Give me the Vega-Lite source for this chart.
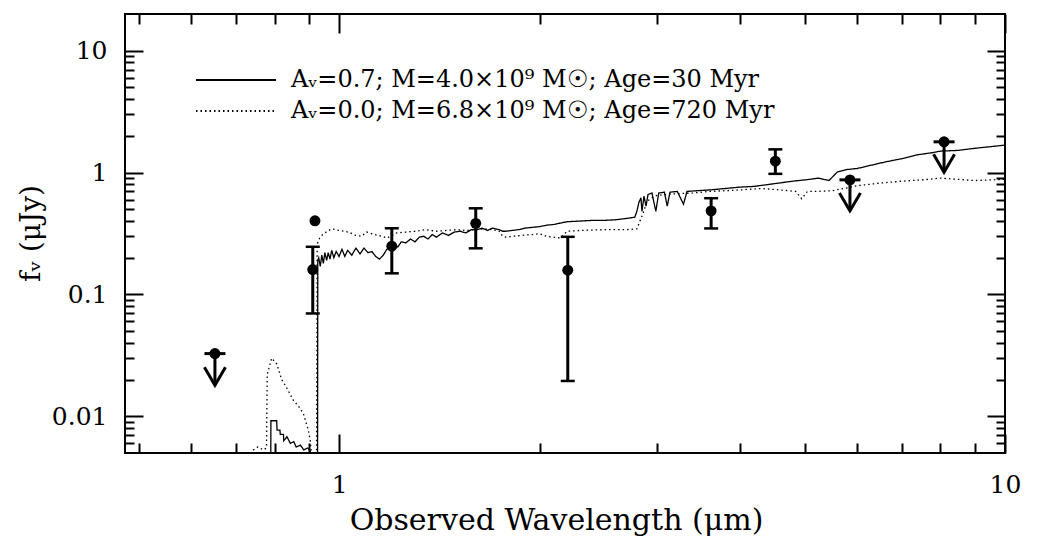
{
  "$schema": "https://vega.github.io/schema/vega-lite/v6.json",
  "width": 880,
  "height": 439,
  "autosize": {"type": "none"},
  "padding": {"left": 125, "top": 14, "right": 33, "bottom": 85},
  "background": "white",
  "config": {
    "view": {"stroke": "black", "strokeWidth": 2},
    "font": "DejaVu Serif",
    "axis": {"domain": false, "grid": false, "tickColor": "black", "tickWidth": 2, "labelFont": "DejaVu Serif", "labelFontSize": 25, "labelColor": "black", "titleFont": "DejaVu Serif", "titleFontSize": 30, "titleFontWeight": "normal", "titleColor": "black", "labelOverlap": false, "labelFlush": false}
  },
  "datasets": {
    "spec": [
      {"model": "Aᵥ=0.7; M=4.0×10⁹ M☉; Age=30 Myr", "wl": 0.60, "flux": 0.001},
      {"model": "Aᵥ=0.7; M=4.0×10⁹ M☉; Age=30 Myr", "wl": 0.789, "flux": 0.001},
      {"model": "Aᵥ=0.7; M=4.0×10⁹ M☉; Age=30 Myr", "wl": 0.790, "flux": 0.0092},
      {"model": "Aᵥ=0.7; M=4.0×10⁹ M☉; Age=30 Myr", "wl": 0.806, "flux": 0.0092},
      {"model": "Aᵥ=0.7; M=4.0×10⁹ M☉; Age=30 Myr", "wl": 0.807, "flux": 0.0077},
      {"model": "Aᵥ=0.7; M=4.0×10⁹ M☉; Age=30 Myr", "wl": 0.815, "flux": 0.0077},
      {"model": "Aᵥ=0.7; M=4.0×10⁹ M☉; Age=30 Myr", "wl": 0.816, "flux": 0.0071},
      {"model": "Aᵥ=0.7; M=4.0×10⁹ M☉; Age=30 Myr", "wl": 0.825, "flux": 0.0071},
      {"model": "Aᵥ=0.7; M=4.0×10⁹ M☉; Age=30 Myr", "wl": 0.826, "flux": 0.0063},
      {"model": "Aᵥ=0.7; M=4.0×10⁹ M☉; Age=30 Myr", "wl": 0.835, "flux": 0.0068},
      {"model": "Aᵥ=0.7; M=4.0×10⁹ M☉; Age=30 Myr", "wl": 0.845, "flux": 0.0060},
      {"model": "Aᵥ=0.7; M=4.0×10⁹ M☉; Age=30 Myr", "wl": 0.855, "flux": 0.0062},
      {"model": "Aᵥ=0.7; M=4.0×10⁹ M☉; Age=30 Myr", "wl": 0.862, "flux": 0.0056},
      {"model": "Aᵥ=0.7; M=4.0×10⁹ M☉; Age=30 Myr", "wl": 0.875, "flux": 0.0058},
      {"model": "Aᵥ=0.7; M=4.0×10⁹ M☉; Age=30 Myr", "wl": 0.885, "flux": 0.0053},
      {"model": "Aᵥ=0.7; M=4.0×10⁹ M☉; Age=30 Myr", "wl": 0.897, "flux": 0.0055},
      {"model": "Aᵥ=0.7; M=4.0×10⁹ M☉; Age=30 Myr", "wl": 0.905, "flux": 0.0052},
      {"model": "Aᵥ=0.7; M=4.0×10⁹ M☉; Age=30 Myr", "wl": 0.906, "flux": 0.001},
      {"model": "Aᵥ=0.7; M=4.0×10⁹ M☉; Age=30 Myr", "wl": 0.928, "flux": 0.001},
      {"model": "Aᵥ=0.7; M=4.0×10⁹ M☉; Age=30 Myr", "wl": 0.929, "flux": 0.19},
      {"model": "Aᵥ=0.7; M=4.0×10⁹ M☉; Age=30 Myr", "wl": 0.932, "flux": 0.20},
      {"model": "Aᵥ=0.7; M=4.0×10⁹ M☉; Age=30 Myr", "wl": 0.937, "flux": 0.17},
      {"model": "Aᵥ=0.7; M=4.0×10⁹ M☉; Age=30 Myr", "wl": 0.942, "flux": 0.21},
      {"model": "Aᵥ=0.7; M=4.0×10⁹ M☉; Age=30 Myr", "wl": 0.947, "flux": 0.18},
      {"model": "Aᵥ=0.7; M=4.0×10⁹ M☉; Age=30 Myr", "wl": 0.952, "flux": 0.22},
      {"model": "Aᵥ=0.7; M=4.0×10⁹ M☉; Age=30 Myr", "wl": 0.958, "flux": 0.19},
      {"model": "Aᵥ=0.7; M=4.0×10⁹ M☉; Age=30 Myr", "wl": 0.963, "flux": 0.22},
      {"model": "Aᵥ=0.7; M=4.0×10⁹ M☉; Age=30 Myr", "wl": 0.969, "flux": 0.195},
      {"model": "Aᵥ=0.7; M=4.0×10⁹ M☉; Age=30 Myr", "wl": 0.975, "flux": 0.23},
      {"model": "Aᵥ=0.7; M=4.0×10⁹ M☉; Age=30 Myr", "wl": 0.982, "flux": 0.20},
      {"model": "Aᵥ=0.7; M=4.0×10⁹ M☉; Age=30 Myr", "wl": 0.99, "flux": 0.225},
      {"model": "Aᵥ=0.7; M=4.0×10⁹ M☉; Age=30 Myr", "wl": 1.0, "flux": 0.205},
      {"model": "Aᵥ=0.7; M=4.0×10⁹ M☉; Age=30 Myr", "wl": 1.01, "flux": 0.235},
      {"model": "Aᵥ=0.7; M=4.0×10⁹ M☉; Age=30 Myr", "wl": 1.02, "flux": 0.205},
      {"model": "Aᵥ=0.7; M=4.0×10⁹ M☉; Age=30 Myr", "wl": 1.03, "flux": 0.23},
      {"model": "Aᵥ=0.7; M=4.0×10⁹ M☉; Age=30 Myr", "wl": 1.045, "flux": 0.21},
      {"model": "Aᵥ=0.7; M=4.0×10⁹ M☉; Age=30 Myr", "wl": 1.06, "flux": 0.24},
      {"model": "Aᵥ=0.7; M=4.0×10⁹ M☉; Age=30 Myr", "wl": 1.075, "flux": 0.215},
      {"model": "Aᵥ=0.7; M=4.0×10⁹ M☉; Age=30 Myr", "wl": 1.09, "flux": 0.24},
      {"model": "Aᵥ=0.7; M=4.0×10⁹ M☉; Age=30 Myr", "wl": 1.105, "flux": 0.22},
      {"model": "Aᵥ=0.7; M=4.0×10⁹ M☉; Age=30 Myr", "wl": 1.12, "flux": 0.225},
      {"model": "Aᵥ=0.7; M=4.0×10⁹ M☉; Age=30 Myr", "wl": 1.135, "flux": 0.205},
      {"model": "Aᵥ=0.7; M=4.0×10⁹ M☉; Age=30 Myr", "wl": 1.15, "flux": 0.195},
      {"model": "Aᵥ=0.7; M=4.0×10⁹ M☉; Age=30 Myr", "wl": 1.165, "flux": 0.21},
      {"model": "Aᵥ=0.7; M=4.0×10⁹ M☉; Age=30 Myr", "wl": 1.18, "flux": 0.235},
      {"model": "Aᵥ=0.7; M=4.0×10⁹ M☉; Age=30 Myr", "wl": 1.195, "flux": 0.245},
      {"model": "Aᵥ=0.7; M=4.0×10⁹ M☉; Age=30 Myr", "wl": 1.21, "flux": 0.26},
      {"model": "Aᵥ=0.7; M=4.0×10⁹ M☉; Age=30 Myr", "wl": 1.225, "flux": 0.245},
      {"model": "Aᵥ=0.7; M=4.0×10⁹ M☉; Age=30 Myr", "wl": 1.24, "flux": 0.27},
      {"model": "Aᵥ=0.7; M=4.0×10⁹ M☉; Age=30 Myr", "wl": 1.26, "flux": 0.265},
      {"model": "Aᵥ=0.7; M=4.0×10⁹ M☉; Age=30 Myr", "wl": 1.28, "flux": 0.285},
      {"model": "Aᵥ=0.7; M=4.0×10⁹ M☉; Age=30 Myr", "wl": 1.30, "flux": 0.27},
      {"model": "Aᵥ=0.7; M=4.0×10⁹ M☉; Age=30 Myr", "wl": 1.32, "flux": 0.295},
      {"model": "Aᵥ=0.7; M=4.0×10⁹ M☉; Age=30 Myr", "wl": 1.34, "flux": 0.30},
      {"model": "Aᵥ=0.7; M=4.0×10⁹ M☉; Age=30 Myr", "wl": 1.36, "flux": 0.285},
      {"model": "Aᵥ=0.7; M=4.0×10⁹ M☉; Age=30 Myr", "wl": 1.38, "flux": 0.31},
      {"model": "Aᵥ=0.7; M=4.0×10⁹ M☉; Age=30 Myr", "wl": 1.40, "flux": 0.295},
      {"model": "Aᵥ=0.7; M=4.0×10⁹ M☉; Age=30 Myr", "wl": 1.43, "flux": 0.32},
      {"model": "Aᵥ=0.7; M=4.0×10⁹ M☉; Age=30 Myr", "wl": 1.46, "flux": 0.305},
      {"model": "Aᵥ=0.7; M=4.0×10⁹ M☉; Age=30 Myr", "wl": 1.49, "flux": 0.325},
      {"model": "Aᵥ=0.7; M=4.0×10⁹ M☉; Age=30 Myr", "wl": 1.52, "flux": 0.33},
      {"model": "Aᵥ=0.7; M=4.0×10⁹ M☉; Age=30 Myr", "wl": 1.55, "flux": 0.32},
      {"model": "Aᵥ=0.7; M=4.0×10⁹ M☉; Age=30 Myr", "wl": 1.58, "flux": 0.34},
      {"model": "Aᵥ=0.7; M=4.0×10⁹ M☉; Age=30 Myr", "wl": 1.61, "flux": 0.34},
      {"model": "Aᵥ=0.7; M=4.0×10⁹ M☉; Age=30 Myr", "wl": 1.64, "flux": 0.35},
      {"model": "Aᵥ=0.7; M=4.0×10⁹ M☉; Age=30 Myr", "wl": 1.67, "flux": 0.335},
      {"model": "Aᵥ=0.7; M=4.0×10⁹ M☉; Age=30 Myr", "wl": 1.70, "flux": 0.35},
      {"model": "Aᵥ=0.7; M=4.0×10⁹ M☉; Age=30 Myr", "wl": 1.74, "flux": 0.34},
      {"model": "Aᵥ=0.7; M=4.0×10⁹ M☉; Age=30 Myr", "wl": 1.76, "flux": 0.33},
      {"model": "Aᵥ=0.7; M=4.0×10⁹ M☉; Age=30 Myr", "wl": 1.78, "flux": 0.33},
      {"model": "Aᵥ=0.7; M=4.0×10⁹ M☉; Age=30 Myr", "wl": 1.82, "flux": 0.335},
      {"model": "Aᵥ=0.7; M=4.0×10⁹ M☉; Age=30 Myr", "wl": 1.86, "flux": 0.34},
      {"model": "Aᵥ=0.7; M=4.0×10⁹ M☉; Age=30 Myr", "wl": 1.90, "flux": 0.35},
      {"model": "Aᵥ=0.7; M=4.0×10⁹ M☉; Age=30 Myr", "wl": 1.95, "flux": 0.355},
      {"model": "Aᵥ=0.7; M=4.0×10⁹ M☉; Age=30 Myr", "wl": 2.0, "flux": 0.36},
      {"model": "Aᵥ=0.7; M=4.0×10⁹ M☉; Age=30 Myr", "wl": 2.05, "flux": 0.37},
      {"model": "Aᵥ=0.7; M=4.0×10⁹ M☉; Age=30 Myr", "wl": 2.1, "flux": 0.375},
      {"model": "Aᵥ=0.7; M=4.0×10⁹ M☉; Age=30 Myr", "wl": 2.15, "flux": 0.385},
      {"model": "Aᵥ=0.7; M=4.0×10⁹ M☉; Age=30 Myr", "wl": 2.2, "flux": 0.395},
      {"model": "Aᵥ=0.7; M=4.0×10⁹ M☉; Age=30 Myr", "wl": 2.3, "flux": 0.40},
      {"model": "Aᵥ=0.7; M=4.0×10⁹ M☉; Age=30 Myr", "wl": 2.4, "flux": 0.405},
      {"model": "Aᵥ=0.7; M=4.0×10⁹ M☉; Age=30 Myr", "wl": 2.5, "flux": 0.405},
      {"model": "Aᵥ=0.7; M=4.0×10⁹ M☉; Age=30 Myr", "wl": 2.6, "flux": 0.41},
      {"model": "Aᵥ=0.7; M=4.0×10⁹ M☉; Age=30 Myr", "wl": 2.7, "flux": 0.42},
      {"model": "Aᵥ=0.7; M=4.0×10⁹ M☉; Age=30 Myr", "wl": 2.78, "flux": 0.43},
      {"model": "Aᵥ=0.7; M=4.0×10⁹ M☉; Age=30 Myr", "wl": 2.80, "flux": 0.48},
      {"model": "Aᵥ=0.7; M=4.0×10⁹ M☉; Age=30 Myr", "wl": 2.82, "flux": 0.57},
      {"model": "Aᵥ=0.7; M=4.0×10⁹ M☉; Age=30 Myr", "wl": 2.84, "flux": 0.62},
      {"model": "Aᵥ=0.7; M=4.0×10⁹ M☉; Age=30 Myr", "wl": 2.85, "flux": 0.48},
      {"model": "Aᵥ=0.7; M=4.0×10⁹ M☉; Age=30 Myr", "wl": 2.87, "flux": 0.64},
      {"model": "Aᵥ=0.7; M=4.0×10⁹ M☉; Age=30 Myr", "wl": 2.89, "flux": 0.53},
      {"model": "Aᵥ=0.7; M=4.0×10⁹ M☉; Age=30 Myr", "wl": 2.91, "flux": 0.66},
      {"model": "Aᵥ=0.7; M=4.0×10⁹ M☉; Age=30 Myr", "wl": 2.95, "flux": 0.68},
      {"model": "Aᵥ=0.7; M=4.0×10⁹ M☉; Age=30 Myr", "wl": 2.99, "flux": 0.48},
      {"model": "Aᵥ=0.7; M=4.0×10⁹ M☉; Age=30 Myr", "wl": 3.02, "flux": 0.68},
      {"model": "Aᵥ=0.7; M=4.0×10⁹ M☉; Age=30 Myr", "wl": 3.08, "flux": 0.69},
      {"model": "Aᵥ=0.7; M=4.0×10⁹ M☉; Age=30 Myr", "wl": 3.11, "flux": 0.53},
      {"model": "Aᵥ=0.7; M=4.0×10⁹ M☉; Age=30 Myr", "wl": 3.14, "flux": 0.69},
      {"model": "Aᵥ=0.7; M=4.0×10⁹ M☉; Age=30 Myr", "wl": 3.22, "flux": 0.70},
      {"model": "Aᵥ=0.7; M=4.0×10⁹ M☉; Age=30 Myr", "wl": 3.29, "flux": 0.55},
      {"model": "Aᵥ=0.7; M=4.0×10⁹ M☉; Age=30 Myr", "wl": 3.33, "flux": 0.70},
      {"model": "Aᵥ=0.7; M=4.0×10⁹ M☉; Age=30 Myr", "wl": 3.45, "flux": 0.71},
      {"model": "Aᵥ=0.7; M=4.0×10⁹ M☉; Age=30 Myr", "wl": 3.6, "flux": 0.72},
      {"model": "Aᵥ=0.7; M=4.0×10⁹ M☉; Age=30 Myr", "wl": 3.8, "flux": 0.74},
      {"model": "Aᵥ=0.7; M=4.0×10⁹ M☉; Age=30 Myr", "wl": 4.0, "flux": 0.76},
      {"model": "Aᵥ=0.7; M=4.0×10⁹ M☉; Age=30 Myr", "wl": 4.2, "flux": 0.77},
      {"model": "Aᵥ=0.7; M=4.0×10⁹ M☉; Age=30 Myr", "wl": 4.5, "flux": 0.81},
      {"model": "Aᵥ=0.7; M=4.0×10⁹ M☉; Age=30 Myr", "wl": 4.8, "flux": 0.85},
      {"model": "Aᵥ=0.7; M=4.0×10⁹ M☉; Age=30 Myr", "wl": 5.0, "flux": 0.87},
      {"model": "Aᵥ=0.7; M=4.0×10⁹ M☉; Age=30 Myr", "wl": 5.25, "flux": 0.90},
      {"model": "Aᵥ=0.7; M=4.0×10⁹ M☉; Age=30 Myr", "wl": 5.44, "flux": 0.86},
      {"model": "Aᵥ=0.7; M=4.0×10⁹ M☉; Age=30 Myr", "wl": 5.6, "flux": 1.01},
      {"model": "Aᵥ=0.7; M=4.0×10⁹ M☉; Age=30 Myr", "wl": 5.8, "flux": 1.06},
      {"model": "Aᵥ=0.7; M=4.0×10⁹ M☉; Age=30 Myr", "wl": 6.0, "flux": 1.08},
      {"model": "Aᵥ=0.7; M=4.0×10⁹ M☉; Age=30 Myr", "wl": 6.3, "flux": 1.15},
      {"model": "Aᵥ=0.7; M=4.0×10⁹ M☉; Age=30 Myr", "wl": 6.6, "flux": 1.22},
      {"model": "Aᵥ=0.7; M=4.0×10⁹ M☉; Age=30 Myr", "wl": 7.0, "flux": 1.30},
      {"model": "Aᵥ=0.7; M=4.0×10⁹ M☉; Age=30 Myr", "wl": 7.4, "flux": 1.40},
      {"model": "Aᵥ=0.7; M=4.0×10⁹ M☉; Age=30 Myr", "wl": 7.8, "flux": 1.46},
      {"model": "Aᵥ=0.7; M=4.0×10⁹ M☉; Age=30 Myr", "wl": 8.0, "flux": 1.50},
      {"model": "Aᵥ=0.7; M=4.0×10⁹ M☉; Age=30 Myr", "wl": 8.5, "flux": 1.52},
      {"model": "Aᵥ=0.7; M=4.0×10⁹ M☉; Age=30 Myr", "wl": 9.0, "flux": 1.58},
      {"model": "Aᵥ=0.7; M=4.0×10⁹ M☉; Age=30 Myr", "wl": 9.5, "flux": 1.63},
      {"model": "Aᵥ=0.7; M=4.0×10⁹ M☉; Age=30 Myr", "wl": 10.0, "flux": 1.68},

      {"model": "Aᵥ=0.0; M=6.8×10⁹ M☉; Age=720 Myr", "wl": 0.60, "flux": 0.001},
      {"model": "Aᵥ=0.0; M=6.8×10⁹ M☉; Age=720 Myr", "wl": 0.738, "flux": 0.001},
      {"model": "Aᵥ=0.0; M=6.8×10⁹ M☉; Age=720 Myr", "wl": 0.740, "flux": 0.0052},
      {"model": "Aᵥ=0.0; M=6.8×10⁹ M☉; Age=720 Myr", "wl": 0.755, "flux": 0.0056},
      {"model": "Aᵥ=0.0; M=6.8×10⁹ M☉; Age=720 Myr", "wl": 0.770, "flux": 0.0053},
      {"model": "Aᵥ=0.0; M=6.8×10⁹ M☉; Age=720 Myr", "wl": 0.778, "flux": 0.0055},
      {"model": "Aᵥ=0.0; M=6.8×10⁹ M☉; Age=720 Myr", "wl": 0.780, "flux": 0.022},
      {"model": "Aᵥ=0.0; M=6.8×10⁹ M☉; Age=720 Myr", "wl": 0.792, "flux": 0.030},
      {"model": "Aᵥ=0.0; M=6.8×10⁹ M☉; Age=720 Myr", "wl": 0.806, "flux": 0.027},
      {"model": "Aᵥ=0.0; M=6.8×10⁹ M☉; Age=720 Myr", "wl": 0.820, "flux": 0.020},
      {"model": "Aᵥ=0.0; M=6.8×10⁹ M☉; Age=720 Myr", "wl": 0.835, "flux": 0.017},
      {"model": "Aᵥ=0.0; M=6.8×10⁹ M☉; Age=720 Myr", "wl": 0.854, "flux": 0.0135},
      {"model": "Aᵥ=0.0; M=6.8×10⁹ M☉; Age=720 Myr", "wl": 0.870, "flux": 0.012},
      {"model": "Aᵥ=0.0; M=6.8×10⁹ M☉; Age=720 Myr", "wl": 0.884, "flux": 0.0105},
      {"model": "Aᵥ=0.0; M=6.8×10⁹ M☉; Age=720 Myr", "wl": 0.899, "flux": 0.0077},
      {"model": "Aᵥ=0.0; M=6.8×10⁹ M☉; Age=720 Myr", "wl": 0.905, "flux": 0.0064},
      {"model": "Aᵥ=0.0; M=6.8×10⁹ M☉; Age=720 Myr", "wl": 0.910, "flux": 0.0045},
      {"model": "Aᵥ=0.0; M=6.8×10⁹ M☉; Age=720 Myr", "wl": 0.925, "flux": 0.0045},
      {"model": "Aᵥ=0.0; M=6.8×10⁹ M☉; Age=720 Myr", "wl": 0.927, "flux": 0.26},
      {"model": "Aᵥ=0.0; M=6.8×10⁹ M☉; Age=720 Myr", "wl": 0.935, "flux": 0.29},
      {"model": "Aᵥ=0.0; M=6.8×10⁹ M☉; Age=720 Myr", "wl": 0.945, "flux": 0.31},
      {"model": "Aᵥ=0.0; M=6.8×10⁹ M☉; Age=720 Myr", "wl": 0.96, "flux": 0.33},
      {"model": "Aᵥ=0.0; M=6.8×10⁹ M☉; Age=720 Myr", "wl": 0.975, "flux": 0.345},
      {"model": "Aᵥ=0.0; M=6.8×10⁹ M☉; Age=720 Myr", "wl": 0.99, "flux": 0.34},
      {"model": "Aᵥ=0.0; M=6.8×10⁹ M☉; Age=720 Myr", "wl": 1.0, "flux": 0.335},
      {"model": "Aᵥ=0.0; M=6.8×10⁹ M☉; Age=720 Myr", "wl": 1.02, "flux": 0.33},
      {"model": "Aᵥ=0.0; M=6.8×10⁹ M☉; Age=720 Myr", "wl": 1.04, "flux": 0.32},
      {"model": "Aᵥ=0.0; M=6.8×10⁹ M☉; Age=720 Myr", "wl": 1.06, "flux": 0.305},
      {"model": "Aᵥ=0.0; M=6.8×10⁹ M☉; Age=720 Myr", "wl": 1.08, "flux": 0.30},
      {"model": "Aᵥ=0.0; M=6.8×10⁹ M☉; Age=720 Myr", "wl": 1.10, "flux": 0.325},
      {"model": "Aᵥ=0.0; M=6.8×10⁹ M☉; Age=720 Myr", "wl": 1.13, "flux": 0.31},
      {"model": "Aᵥ=0.0; M=6.8×10⁹ M☉; Age=720 Myr", "wl": 1.16, "flux": 0.30},
      {"model": "Aᵥ=0.0; M=6.8×10⁹ M☉; Age=720 Myr", "wl": 1.18, "flux": 0.29},
      {"model": "Aᵥ=0.0; M=6.8×10⁹ M☉; Age=720 Myr", "wl": 1.22, "flux": 0.32},
      {"model": "Aᵥ=0.0; M=6.8×10⁹ M☉; Age=720 Myr", "wl": 1.26, "flux": 0.325},
      {"model": "Aᵥ=0.0; M=6.8×10⁹ M☉; Age=720 Myr", "wl": 1.30, "flux": 0.33},
      {"model": "Aᵥ=0.0; M=6.8×10⁹ M☉; Age=720 Myr", "wl": 1.35, "flux": 0.34},
      {"model": "Aᵥ=0.0; M=6.8×10⁹ M☉; Age=720 Myr", "wl": 1.40, "flux": 0.33},
      {"model": "Aᵥ=0.0; M=6.8×10⁹ M☉; Age=720 Myr", "wl": 1.45, "flux": 0.335},
      {"model": "Aᵥ=0.0; M=6.8×10⁹ M☉; Age=720 Myr", "wl": 1.50, "flux": 0.34},
      {"model": "Aᵥ=0.0; M=6.8×10⁹ M☉; Age=720 Myr", "wl": 1.55, "flux": 0.335},
      {"model": "Aᵥ=0.0; M=6.8×10⁹ M☉; Age=720 Myr", "wl": 1.60, "flux": 0.34},
      {"model": "Aᵥ=0.0; M=6.8×10⁹ M☉; Age=720 Myr", "wl": 1.65, "flux": 0.345},
      {"model": "Aᵥ=0.0; M=6.8×10⁹ M☉; Age=720 Myr", "wl": 1.70, "flux": 0.34},
      {"model": "Aᵥ=0.0; M=6.8×10⁹ M☉; Age=720 Myr", "wl": 1.74, "flux": 0.33},
      {"model": "Aᵥ=0.0; M=6.8×10⁹ M☉; Age=720 Myr", "wl": 1.76, "flux": 0.30},
      {"model": "Aᵥ=0.0; M=6.8×10⁹ M☉; Age=720 Myr", "wl": 1.78, "flux": 0.295},
      {"model": "Aᵥ=0.0; M=6.8×10⁹ M☉; Age=720 Myr", "wl": 1.82, "flux": 0.30},
      {"model": "Aᵥ=0.0; M=6.8×10⁹ M☉; Age=720 Myr", "wl": 1.88, "flux": 0.305},
      {"model": "Aᵥ=0.0; M=6.8×10⁹ M☉; Age=720 Myr", "wl": 1.95, "flux": 0.31},
      {"model": "Aᵥ=0.0; M=6.8×10⁹ M☉; Age=720 Myr", "wl": 2.0, "flux": 0.315},
      {"model": "Aᵥ=0.0; M=6.8×10⁹ M☉; Age=720 Myr", "wl": 2.05, "flux": 0.30},
      {"model": "Aᵥ=0.0; M=6.8×10⁹ M☉; Age=720 Myr", "wl": 2.1, "flux": 0.295},
      {"model": "Aᵥ=0.0; M=6.8×10⁹ M☉; Age=720 Myr", "wl": 2.15, "flux": 0.29},
      {"model": "Aᵥ=0.0; M=6.8×10⁹ M☉; Age=720 Myr", "wl": 2.2, "flux": 0.33},
      {"model": "Aᵥ=0.0; M=6.8×10⁹ M☉; Age=720 Myr", "wl": 2.3, "flux": 0.335},
      {"model": "Aᵥ=0.0; M=6.8×10⁹ M☉; Age=720 Myr", "wl": 2.5, "flux": 0.34},
      {"model": "Aᵥ=0.0; M=6.8×10⁹ M☉; Age=720 Myr", "wl": 2.7, "flux": 0.34},
      {"model": "Aᵥ=0.0; M=6.8×10⁹ M☉; Age=720 Myr", "wl": 2.80, "flux": 0.345},
      {"model": "Aᵥ=0.0; M=6.8×10⁹ M☉; Age=720 Myr", "wl": 2.83, "flux": 0.40},
      {"model": "Aᵥ=0.0; M=6.8×10⁹ M☉; Age=720 Myr", "wl": 2.86, "flux": 0.46},
      {"model": "Aᵥ=0.0; M=6.8×10⁹ M☉; Age=720 Myr", "wl": 2.9, "flux": 0.58},
      {"model": "Aᵥ=0.0; M=6.8×10⁹ M☉; Age=720 Myr", "wl": 2.95, "flux": 0.62},
      {"model": "Aᵥ=0.0; M=6.8×10⁹ M☉; Age=720 Myr", "wl": 3.0, "flux": 0.65},
      {"model": "Aᵥ=0.0; M=6.8×10⁹ M☉; Age=720 Myr", "wl": 3.1, "flux": 0.66},
      {"model": "Aᵥ=0.0; M=6.8×10⁹ M☉; Age=720 Myr", "wl": 3.2, "flux": 0.67},
      {"model": "Aᵥ=0.0; M=6.8×10⁹ M☉; Age=720 Myr", "wl": 3.4, "flux": 0.68},
      {"model": "Aᵥ=0.0; M=6.8×10⁹ M☉; Age=720 Myr", "wl": 3.6, "flux": 0.70},
      {"model": "Aᵥ=0.0; M=6.8×10⁹ M☉; Age=720 Myr", "wl": 3.8, "flux": 0.71},
      {"model": "Aᵥ=0.0; M=6.8×10⁹ M☉; Age=720 Myr", "wl": 4.0, "flux": 0.72},
      {"model": "Aᵥ=0.0; M=6.8×10⁹ M☉; Age=720 Myr", "wl": 4.3, "flux": 0.74},
      {"model": "Aᵥ=0.0; M=6.8×10⁹ M☉; Age=720 Myr", "wl": 4.6, "flux": 0.72},
      {"model": "Aᵥ=0.0; M=6.8×10⁹ M☉; Age=720 Myr", "wl": 4.85, "flux": 0.70},
      {"model": "Aᵥ=0.0; M=6.8×10⁹ M☉; Age=720 Myr", "wl": 4.95, "flux": 0.61},
      {"model": "Aᵥ=0.0; M=6.8×10⁹ M☉; Age=720 Myr", "wl": 5.05, "flux": 0.70},
      {"model": "Aᵥ=0.0; M=6.8×10⁹ M☉; Age=720 Myr", "wl": 5.2, "flux": 0.70},
      {"model": "Aᵥ=0.0; M=6.8×10⁹ M☉; Age=720 Myr", "wl": 5.5, "flux": 0.71},
      {"model": "Aᵥ=0.0; M=6.8×10⁹ M☉; Age=720 Myr", "wl": 5.8, "flux": 0.75},
      {"model": "Aᵥ=0.0; M=6.8×10⁹ M☉; Age=720 Myr", "wl": 6.0, "flux": 0.78},
      {"model": "Aᵥ=0.0; M=6.8×10⁹ M☉; Age=720 Myr", "wl": 6.5, "flux": 0.82},
      {"model": "Aᵥ=0.0; M=6.8×10⁹ M☉; Age=720 Myr", "wl": 7.0, "flux": 0.85},
      {"model": "Aᵥ=0.0; M=6.8×10⁹ M☉; Age=720 Myr", "wl": 7.5, "flux": 0.87},
      {"model": "Aᵥ=0.0; M=6.8×10⁹ M☉; Age=720 Myr", "wl": 8.0, "flux": 0.90},
      {"model": "Aᵥ=0.0; M=6.8×10⁹ M☉; Age=720 Myr", "wl": 8.5, "flux": 0.88},
      {"model": "Aᵥ=0.0; M=6.8×10⁹ M☉; Age=720 Myr", "wl": 9.0, "flux": 0.86},
      {"model": "Aᵥ=0.0; M=6.8×10⁹ M☉; Age=720 Myr", "wl": 9.5, "flux": 0.87},
      {"model": "Aᵥ=0.0; M=6.8×10⁹ M☉; Age=720 Myr", "wl": 10.0, "flux": 0.88}
    ],
    "pts": [
      {"wl": 0.651, "flux": 0.0327, "lo": 0.0180, "kind": "limit"},
      {"wl": 0.920, "flux": 0.402, "kind": "single"},
      {"wl": 0.913, "flux": 0.160, "lo": 0.0698, "hi": 0.246, "kind": "detection"},
      {"wl": 1.20, "flux": 0.249, "lo": 0.149, "hi": 0.349, "kind": "detection"},
      {"wl": 1.604, "flux": 0.383, "lo": 0.239, "hi": 0.509, "kind": "detection"},
      {"wl": 2.205, "flux": 0.158, "lo": 0.0195, "hi": 0.297, "kind": "detection"},
      {"wl": 3.62, "flux": 0.485, "lo": 0.348, "hi": 0.616, "kind": "detection"},
      {"wl": 4.52, "flux": 1.24, "lo": 0.976, "hi": 1.55, "kind": "detection"},
      {"wl": 5.85, "flux": 0.871, "lo": 0.485, "kind": "limit"},
      {"wl": 8.10, "flux": 1.787, "lo": 1.007, "kind": "limit"}
    ]
  },
  "layer": [
    {
      "data": {"name": "spec"},
      "mark": {"type": "line", "color": "black", "strokeWidth": 1.3, "clip": true},
      "encoding": {
        "x": {"field": "wl", "type": "quantitative", "scale": {"type": "log", "domain": [0.477, 10], "nice": false},
          "axis": {"orient": "bottom", "values": [0.5, 0.6, 0.7, 0.8, 0.9, 1, 2, 3, 4, 5, 6, 7, 8, 9, 10],
            "tickSize": {"condition": {"test": "datum.value == 1 || datum.value == 10", "value": -19}, "value": -10},
            "labelExpr": "datum.value == 1 || datum.value == 10 ? datum.label : ''", "format": "~g", "labelPadding": 38,
            "title": "Observed Wavelength (μm)", "titleX": 431, "titleY": 67, "titleBaseline": "middle", "titleAlign": "center"}},
        "y": {"field": "flux", "type": "quantitative", "scale": {"type": "log", "domain": [0.005, 20], "nice": false},
          "axis": {"orient": "left", "values": [0.006, 0.007, 0.008, 0.009, 0.01, 0.02, 0.03, 0.04, 0.05, 0.06, 0.07, 0.08, 0.09, 0.1, 0.2, 0.3, 0.4, 0.5, 0.6, 0.7, 0.8, 0.9, 1, 2, 3, 4, 5, 6, 7, 8, 9, 10],
            "tickSize": {"condition": {"test": "datum.value == 0.01 || datum.value == 0.1 || datum.value == 1 || datum.value == 10", "value": -18}, "value": -9},
            "labelExpr": "datum.value == 0.01 || datum.value == 0.1 || datum.value == 1 || datum.value == 10 ? datum.label : ''", "format": "~g", "labelPadding": 36,
            "title": "fᵥ (μJy)", "titleFontSize": 28, "titleX": -94, "titleY": 219, "titleAngle": 270, "titleBaseline": "middle", "titleAlign": "center"}},
        "strokeDash": {"field": "model", "type": "nominal",
          "scale": {"domain": ["Aᵥ=0.7; M=4.0×10⁹ M☉; Age=30 Myr", "Aᵥ=0.0; M=6.8×10⁹ M☉; Age=720 Myr"], "range": [[1, 0], [1.5, 3]]},
          "legend": {"orient": "none", "legendX": 99, "legendY": 54, "title": null, "padding": 0, "symbolType": "M-8,0L8,0", "symbolSize": 100, "symbolStrokeColor": "black", "symbolStrokeWidth": 2, "labelFont": "DejaVu Serif", "labelFontSize": 24, "labelColor": "black", "labelOffset": 43, "rowPadding": 7, "labelLimit": 900}}
      }
    },
    {
      "data": {"name": "pts"},
      "transform": [{"filter": "datum.kind == 'detection'"}],
      "mark": {"type": "rule", "color": "black", "strokeWidth": 3},
      "encoding": {
        "x": {"field": "wl", "type": "quantitative", "scale": {"type": "log", "domain": [0.477, 10], "nice": false},
          "axis": {"orient": "top", "values": [0.5, 0.6, 0.7, 0.8, 0.9, 1, 2, 3, 4, 5, 6, 7, 8, 9, 10],
            "tickSize": {"condition": {"test": "datum.value == 1 || datum.value == 10", "value": -19}, "value": -10},
            "labels": false, "title": null}},
        "y": {"field": "lo", "type": "quantitative", "scale": {"type": "log", "domain": [0.005, 20], "nice": false},
          "axis": {"orient": "right", "values": [0.006, 0.007, 0.008, 0.009, 0.01, 0.02, 0.03, 0.04, 0.05, 0.06, 0.07, 0.08, 0.09, 0.1, 0.2, 0.3, 0.4, 0.5, 0.6, 0.7, 0.8, 0.9, 1, 2, 3, 4, 5, 6, 7, 8, 9, 10],
            "tickSize": {"condition": {"test": "datum.value == 0.01 || datum.value == 0.1 || datum.value == 1 || datum.value == 10", "value": -18}, "value": -9},
            "labels": false, "title": null}},
        "y2": {"field": "hi"}
      }
    },
    {
      "data": {"name": "pts"},
      "transform": [{"filter": "datum.kind == 'detection'"}],
      "mark": {"type": "point", "shape": "stroke", "size": 196, "color": "black", "strokeWidth": 2.5, "opacity": 1},
      "encoding": {
        "x": {"field": "wl", "type": "quantitative", "axis": null},
        "y": {"field": "lo", "type": "quantitative", "axis": null}
      }
    },
    {
      "data": {"name": "pts"},
      "transform": [{"filter": "datum.kind == 'detection'"}],
      "mark": {"type": "point", "shape": "stroke", "size": 196, "color": "black", "strokeWidth": 2.5, "opacity": 1},
      "encoding": {
        "x": {"field": "wl", "type": "quantitative", "axis": null},
        "y": {"field": "hi", "type": "quantitative", "axis": null}
      }
    },
    {
      "data": {"name": "pts"},
      "transform": [{"filter": "datum.kind == 'limit'"}],
      "mark": {"type": "rule", "color": "black", "strokeWidth": 3},
      "encoding": {
        "x": {"field": "wl", "type": "quantitative", "axis": null},
        "y": {"field": "flux", "type": "quantitative", "axis": null},
        "y2": {"field": "lo"}
      }
    },
    {
      "data": {"name": "pts"},
      "transform": [{"filter": "datum.kind == 'limit'"}],
      "mark": {"type": "point", "shape": "M-1,-1.7L0,0L1,-1.7", "size": 441, "filled": false, "color": "black", "strokeWidth": 3, "opacity": 1},
      "encoding": {
        "x": {"field": "wl", "type": "quantitative", "axis": null},
        "y": {"field": "lo", "type": "quantitative", "axis": null}
      }
    },
    {
      "data": {"name": "pts"},
      "transform": [{"filter": "datum.kind == 'limit'"}],
      "mark": {"type": "point", "shape": "stroke", "size": 441, "color": "black", "strokeWidth": 3, "opacity": 1},
      "encoding": {
        "x": {"field": "wl", "type": "quantitative", "axis": null},
        "y": {"field": "flux", "type": "quantitative", "axis": null}
      }
    },
    {
      "data": {"name": "pts"},
      "mark": {"type": "point", "shape": "circle", "filled": true, "size": 120, "color": "black", "opacity": 1},
      "encoding": {
        "x": {"field": "wl", "type": "quantitative", "axis": null},
        "y": {"field": "flux", "type": "quantitative", "axis": null}
      }
    }
  ],
  "resolve": {"axis": {"x": "independent", "y": "independent"}}
}
